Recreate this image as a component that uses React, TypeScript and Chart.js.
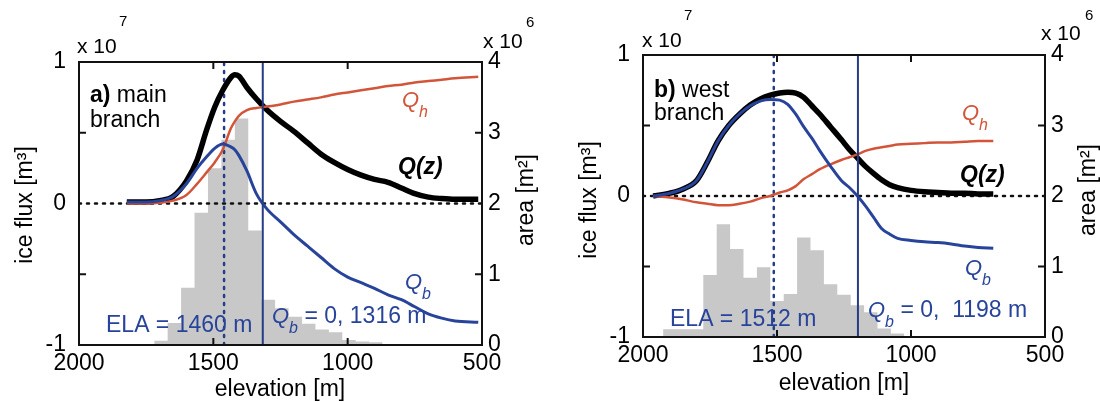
import React, { useEffect, useRef } from "react";
import { Chart, registerables } from "chart.js";
Chart.register(...registerables);

// ---------- data ----------
const xTickValues = [2000, 1500, 1000, 500];
const fluxTickLabels = ["-1", "0", "1"];
const areaTickLabels = ["0", "1", "2", "3", "4"];

// panel a) main branch
const elevA = [1822, 1750, 1700, 1650, 1600, 1560, 1525, 1495, 1465, 1435, 1420, 1405, 1375, 1340, 1300, 1250, 1200, 1150, 1100, 1050, 1000, 950, 900, 850, 800, 750, 700, 650, 600, 514];
const qzA = [0.01, 0.01, 0.02, 0.05, 0.16, 0.31, 0.52, 0.68, 0.8, 0.89, 0.91, 0.9, 0.82, 0.74, 0.66, 0.58, 0.51, 0.43, 0.35, 0.29, 0.24, 0.2, 0.17, 0.15, 0.11, 0.07, 0.045, 0.035, 0.03, 0.03];
const qhA = [0.0, 0.0, 0.005, 0.02, 0.06, 0.14, 0.22, 0.29, 0.38, 0.53, 0.58, 0.62, 0.66, 0.675, 0.685, 0.7, 0.72, 0.735, 0.75, 0.77, 0.785, 0.8, 0.815, 0.83, 0.84, 0.855, 0.865, 0.875, 0.885, 0.895];
const qbA = [0.01, 0.01, 0.02, 0.05, 0.14, 0.25, 0.33, 0.39, 0.42, 0.4, 0.38, 0.34, 0.23, 0.07, -0.04, -0.13, -0.22, -0.3, -0.38, -0.46, -0.52, -0.56, -0.6, -0.645, -0.68, -0.73, -0.78, -0.81, -0.83, -0.84];
const histEdgesA = [1720, 1670, 1620, 1570, 1520, 1470, 1420, 1370, 1320, 1270, 1220, 1170, 1120, 1070, 1020, 970, 920, 870];
const histAreaA = [0.06, 0.31, 0.81, 1.87, 2.5, 2.9, 3.2, 1.62, 0.64, 0.52, 0.4, 0.3, 0.22, 0.18, 0.07, 0.05, 0.04];
const elaA = 1460;
const qbZeroA = 1316;

// panel b) west branch
const elevB = [1962, 1900, 1850, 1800, 1760, 1720, 1680, 1640, 1600, 1560, 1525, 1490, 1460, 1430, 1400, 1370, 1340, 1300, 1260, 1230, 1200, 1170, 1140, 1110, 1080, 1050, 1000, 950, 900, 850, 800, 750, 693];
const qzB = [0.0, 0.02, 0.05, 0.11, 0.24, 0.39, 0.5, 0.58, 0.645, 0.69, 0.715, 0.73, 0.735, 0.73, 0.7, 0.64, 0.58, 0.49, 0.4, 0.33, 0.27, 0.21, 0.16, 0.115, 0.08, 0.06, 0.04, 0.03, 0.025, 0.02, 0.02, 0.015, 0.015];
const qhB = [0.0, -0.01, -0.025, -0.045, -0.055, -0.065, -0.065, -0.055, -0.04, -0.015, 0.0, 0.025, 0.04, 0.07, 0.12, 0.155, 0.19, 0.225, 0.255, 0.275, 0.295, 0.32, 0.335, 0.345, 0.355, 0.365, 0.37, 0.375, 0.38, 0.38, 0.385, 0.39, 0.39];
const qbB = [0.0, 0.02, 0.05, 0.11, 0.24, 0.39, 0.5, 0.58, 0.64, 0.675, 0.685, 0.68, 0.65, 0.58, 0.49, 0.41, 0.32, 0.21, 0.11, 0.06, 0.0, -0.07, -0.15, -0.23, -0.27, -0.3, -0.315, -0.325, -0.33, -0.34, -0.355, -0.365, -0.37];
const histEdgesB = [1925, 1875, 1825, 1775, 1725, 1675, 1625, 1575, 1525, 1475, 1425, 1375, 1325, 1275, 1225, 1175, 1125, 1075, 1025];
const histAreaB = [0.11, 0.11, 0.11, 0.88, 1.6, 1.25, 0.84, 0.99, 0.51, 0.61, 1.41, 1.23, 0.75, 0.6, 0.45, 0.35, 0.12, 0.05];
const elaB = 1512;
const qbZeroB = 1198;

// ---------- style ----------
const FONT = "'Liberation Sans', Arial, Helvetica, sans-serif";
const RED = "#d2553a";
const BLUE = "#28449a";
const DARKBLUE = "#253c86";
const GRAY = "#c8c8c8";

type Run = { t: string; s: number; w?: string; i?: boolean; dy?: number };
type TextSpec = { x: number; y: number; runs: Run[]; c?: string; rot?: number; center?: boolean };

function drawRuns(ctx: CanvasRenderingContext2D, spec: TextSpec) {
  ctx.save();
  ctx.fillStyle = spec.c || "#000";
  const fontOf = (r: Run) => `${r.i ? "italic " : ""}${r.w || "normal"} ${r.s}px ${FONT}`;
  let total = 0;
  spec.runs.forEach((r) => {
    ctx.font = fontOf(r);
    total += ctx.measureText(r.t).width;
  });
  ctx.translate(spec.x, spec.y);
  if (spec.rot) ctx.rotate((spec.rot * Math.PI) / 180);
  ctx.textBaseline = spec.rot ? "middle" : "alphabetic";
  ctx.textAlign = "left";
  let cx = spec.center ? -total / 2 : 0;
  spec.runs.forEach((r) => {
    ctx.font = fontOf(r);
    ctx.fillText(r.t, cx, r.dy || 0);
    cx += ctx.measureText(r.t).width;
  });
  ctx.restore();
}

const framePlugin = {
  id: "frame",
  afterDatasetsDraw(chart: any) {
    const { ctx, chartArea: a, scales } = chart;
    ctx.save();
    ctx.strokeStyle = "#111";
    ctx.lineWidth = 2;
    ctx.strokeRect(a.left, a.top, a.right - a.left, a.bottom - a.top);
    const L = 7;
    ctx.beginPath();
    scales.x.ticks.forEach((t: any) => {
      if (t.value === scales.x.min || t.value === scales.x.max) return;
      const px = scales.x.getPixelForValue(t.value);
      ctx.moveTo(px, a.bottom);
      ctx.lineTo(px, a.bottom - L);
      ctx.moveTo(px, a.top);
      ctx.lineTo(px, a.top + L);
    });
    scales.y.ticks.forEach((t: any) => {
      if (t.value === scales.y.min || t.value === scales.y.max || t.value === 0) return;
      const py = scales.y.getPixelForValue(t.value);
      ctx.moveTo(a.left, py);
      ctx.lineTo(a.left + L, py);
    });
    scales.yArea.ticks.forEach((t: any) => {
      if (t.value === scales.yArea.min || t.value === scales.yArea.max || t.value === 2) return;
      const py = scales.yArea.getPixelForValue(t.value);
      ctx.moveTo(a.right, py);
      ctx.lineTo(a.right - L, py);
    });
    ctx.stroke();
    ctx.restore();
  },
  afterDraw(chart: any, _args: any, opts: any) {
    (opts.texts || []).forEach((s: TextSpec) => drawRuns(chart.ctx, s));
  },
};

const pts = (xs: number[], ys: number[]) => xs.map((x, i) => ({ x, y: ys[i] }));
const histPts = (edges: number[], vals: number[]) =>
  edges.map((e, i) => ({ x: e, y: i < vals.length ? vals[i] : 0 }));

type PanelDef = {
  elev: number[];
  qz: number[];
  qh: number[];
  qb: number[];
  edges: number[];
  area: number[];
  ela: number;
  qb0: number;
  width: number;
  area_: { left: number; right: number; top: number; bottom: number };
  texts: TextSpec[];
};

function makeConfig(p: PanelDef): any {
  const H = 402;
  const tickFont = { family: FONT, size: 23 };
  return {
    type: "line",
    data: {
      datasets: [
        {
          label: "area",
          data: histPts(p.edges, p.area),
          yAxisID: "yArea",
          stepped: true,
          fill: "origin",
          backgroundColor: GRAY,
          borderWidth: 0,
          pointRadius: 0,
          order: 10,
        },
        {
          label: "zero",
          data: [{ x: 2000, y: 0 }, { x: 500, y: 0 }],
          yAxisID: "y",
          borderColor: "#111",
          borderWidth: 2.5,
          borderDash: [2, 6],
          borderCapStyle: "round",
          pointRadius: 0,
          order: 9,
        },
        {
          label: "ELA",
          data: [{ x: p.ela, y: -1 }, { x: p.ela, y: 1 }],
          yAxisID: "y",
          borderColor: DARKBLUE,
          borderWidth: 2.5,
          borderDash: [2, 6],
          borderCapStyle: "round",
          pointRadius: 0,
          order: 8,
        },
        {
          label: "Q(z)",
          data: pts(p.elev, p.qz),
          yAxisID: "y",
          borderColor: "#000",
          borderWidth: 5.5,
          cubicInterpolationMode: "monotone",
          pointRadius: 0,
          order: 6,
        },
        {
          label: "Qh",
          data: pts(p.elev, p.qh),
          yAxisID: "y",
          borderColor: RED,
          borderWidth: 2.5,
          cubicInterpolationMode: "monotone",
          pointRadius: 0,
          order: 5,
        },
        {
          label: "Qb",
          data: pts(p.elev, p.qb),
          yAxisID: "y",
          borderColor: BLUE,
          borderWidth: 3,
          cubicInterpolationMode: "monotone",
          pointRadius: 0,
          order: 4,
        },
        {
          label: "Qb=0",
          data: [{ x: p.qb0, y: -1 }, { x: p.qb0, y: 1 }],
          yAxisID: "y",
          borderColor: DARKBLUE,
          borderWidth: 2,
          pointRadius: 0,
          order: 3,
        },
      ],
    },
    options: {
      animation: false,
      responsive: false,
      maintainAspectRatio: false,
      layout: { padding: { top: p.area_.top, left: 0, right: 0, bottom: 0 } },
      plugins: {
        legend: { display: false },
        tooltip: { enabled: false },
        frame: { texts: p.texts },
      },
      scales: {
        x: {
          type: "linear",
          reverse: true,
          min: 500,
          max: 2000,
          afterBuildTicks: (s: any) => {
            s.ticks = xTickValues.map((v) => ({ value: v }));
          },
          ticks: {
            autoSkip: false,
            maxRotation: 0,
            padding: 5,
            color: "#000",
            font: tickFont,
            callback: (v: number) => String(v),
          },
          grid: { display: false, drawTicks: false },
          border: { display: false },
          afterFit: (s: any) => {
            s.height = H - p.area_.bottom;
          },
        },
        y: {
          type: "linear",
          position: "left",
          min: -1,
          max: 1,
          ticks: {
            stepSize: 0.5,
            autoSkip: false,
            padding: 13,
            color: "#000",
            font: tickFont,
            callback: (v: number) => {
              const lbl = String(v);
              return fluxTickLabels.includes(lbl) ? lbl : "";
            },
          },
          grid: { display: false, drawTicks: false },
          border: { display: false },
          afterFit: (s: any) => {
            s.width = p.area_.left;
          },
        },
        yArea: {
          type: "linear",
          position: "right",
          min: 0,
          max: 4,
          ticks: {
            stepSize: 1,
            autoSkip: false,
            padding: 6,
            color: "#000",
            font: tickFont,
            callback: (v: number) => {
              const lbl = String(v);
              return areaTickLabels.includes(lbl) ? lbl : "";
            },
          },
          grid: { display: false, drawTicks: false },
          border: { display: false },
          afterFit: (s: any) => {
            s.width = p.width - p.area_.right;
          },
        },
      },
    },
    plugins: [framePlugin],
  };
}

const q = (x: number, y: number, sub: string, c: string, extra?: string): TextSpec => ({
  x,
  y,
  c,
  runs: [
    { t: "Q", s: 22, i: true },
    { t: sub, s: 16, i: true, dy: 10 },
    ...(extra ? [{ t: extra, s: 23 }] : []),
  ],
});

const panelA: PanelDef = {
  elev: elevA,
  qz: qzA,
  qh: qhA,
  qb: qbA,
  edges: histEdgesA,
  area: histAreaA,
  ela: elaA,
  qb0: qbZeroA,
  width: 560,
  area_: { left: 79, right: 482, top: 62, bottom: 345 },
  texts: [
    { x: 77, y: 53, runs: [{ t: "x 10", s: 21 }] },
    { x: 119, y: 26, runs: [{ t: "7", s: 15 }] },
    { x: 483, y: 48, runs: [{ t: "x 10", s: 21 }] },
    { x: 526, y: 27, runs: [{ t: "6", s: 15 }] },
    { x: 90, y: 102, runs: [{ t: "a)", s: 23, w: "bold" }, { t: " main", s: 23 }] },
    { x: 90, y: 127, runs: [{ t: "branch", s: 23 }] },
    q(402, 107, "h", RED),
    { x: 398, y: 174, runs: [{ t: "Q(z)", s: 23, w: "bold", i: true }] },
    q(405, 289, "b", BLUE),
    { x: 106, y: 332, c: BLUE, runs: [{ t: "ELA = 1460 m", s: 23 }] },
    q(272, 323, "b", BLUE, " = 0, 1316 m"),
    { x: 26, y: 205, rot: -90, center: true, runs: [{ t: "ice flux [m³]", s: 23 }] },
    { x: 527, y: 200, rot: -90, center: true, runs: [{ t: "area [m²]", s: 23 }] },
    { x: 280, y: 396, center: true, runs: [{ t: "elevation [m]", s: 23 }] },
  ],
};

const panelB: PanelDef = {
  elev: elevB,
  qz: qzB,
  qh: qhB,
  qb: qbB,
  edges: histEdgesB,
  area: histAreaB,
  ela: elaB,
  qb0: qbZeroB,
  width: 540,
  area_: { left: 83, right: 485, top: 55, bottom: 337 },
  texts: [
    { x: 82, y: 47, runs: [{ t: "x 10", s: 21 }] },
    { x: 124, y: 20, runs: [{ t: "7", s: 15 }] },
    { x: 481, y: 40, runs: [{ t: "x 10", s: 21 }] },
    { x: 525, y: 20, runs: [{ t: "6", s: 15 }] },
    { x: 94, y: 97, runs: [{ t: "b)", s: 23, w: "bold" }, { t: " west", s: 23 }] },
    { x: 94, y: 120, runs: [{ t: "branch", s: 23 }] },
    q(402, 120, "h", RED),
    { x: 400, y: 182, runs: [{ t: "Q(z)", s: 23, w: "bold", i: true }] },
    q(405, 275, "b", BLUE),
    { x: 110, y: 326, c: BLUE, runs: [{ t: "ELA = 1512 m", s: 23 }] },
    q(308, 317, "b", BLUE, " = 0,  1198 m"),
    { x: 30, y: 200, rot: -90, center: true, runs: [{ t: "ice flux [m³]", s: 23 }] },
    { x: 529, y: 190, rot: -90, center: true, runs: [{ t: "area [m²]", s: 23 }] },
    { x: 284, y: 390, center: true, runs: [{ t: "elevation [m]", s: 23 }] },
  ],
};

function Panel({ def, left }: { def: PanelDef; left: number }) {
  const ref = useRef<HTMLCanvasElement | null>(null);
  useEffect(() => {
    if (!ref.current) return;
    const chart = new Chart(ref.current, makeConfig(def));
    return () => chart.destroy();
  }, [def]);
  return (
    <canvas
      ref={ref}
      width={def.width}
      height={402}
      style={{ position: "absolute", left, top: 0, width: def.width, height: 402 }}
    />
  );
}

export default function App() {
  return (
    <div style={{ position: "absolute", left: 0, top: 0, width: 1100, height: 402, background: "#fff", overflow: "hidden" }}>
      <Panel def={panelA} left={0} />
      <Panel def={panelB} left={560} />
    </div>
  );
}
